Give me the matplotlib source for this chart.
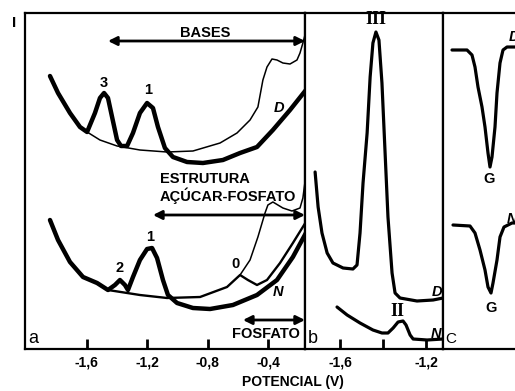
import matplotlib
matplotlib.use('Agg')
import matplotlib.pyplot as plt

plt.rcParams['font.family'] = ['Liberation Sans', 'DejaVu Sans']

# ---- panel a: potential (V) / current (arb. units) ----
d_thick_v = [-1.842, -1.789, -1.710, -1.644, -1.597, -1.545, -1.512, -1.485, -1.459, -1.432,
             -1.399, -1.373, -1.333, -1.294, -1.248, -1.201, -1.162, -1.129, -1.083, -1.030,
             -0.937, -0.832, -0.700, -0.587, -0.475, -0.370, -0.257, -0.152]
d_thick_i = [273, 256, 236, 222, 217, 236, 251, 256, 251, 232,
             209, 203, 203, 216, 236, 246, 241, 222, 201, 192,
             187, 186, 189, 196, 202, 219, 239, 259]

d_thin_v = [-1.597, -1.512, -1.399, -1.248, -1.069, -0.898, -0.719, -0.607, -0.521, -0.469,
            -0.436, -0.409, -0.376, -0.343, -0.304, -0.257, -0.211, -0.191, -0.172, -0.158]
d_thin_i = [217, 209, 203, 199, 197, 198, 206, 216, 229, 242,
            269, 282, 290, 289, 286, 285, 289, 296, 306, 314]

n_thick_v = [-1.842, -1.789, -1.710, -1.624, -1.531, -1.459, -1.413, -1.380, -1.347, -1.327,
             -1.294, -1.248, -1.201, -1.168, -1.135, -1.096, -1.063, -1.003, -0.898, -0.785,
             -0.634, -0.475, -0.343, -0.238, -0.152]
n_thick_i = [129, 109, 87, 72, 66, 59, 64, 69, 64, 59,
             72, 89, 100, 101, 91, 69, 54, 46, 41, 40,
             44, 54, 69, 92, 116]

n_mid_v = [-1.459, -1.248, -1.069, -0.851, -0.673, -0.587, -0.535, -0.475, -0.409, -0.323,
           -0.238, -0.152]
n_mid_i = [59, 54, 51, 52, 62, 74, 69, 64, 69, 86, 106, 127]

n_thin_v = [-0.587, -0.521, -0.469, -0.422, -0.403, -0.370, -0.304, -0.244, -0.191, -0.172, -0.152]
n_thin_i = [74, 89, 112, 136, 144, 147, 141, 138, 141, 151, 174]

# ---- panel b ----
b_d_v = [-1.716, -1.702, -1.684, -1.660, -1.633, -1.586, -1.540, -1.521, -1.507, -1.493,
         -1.474, -1.460, -1.447, -1.433, -1.419, -1.405, -1.391, -1.377, -1.358, -1.344,
         -1.321, -1.242, -1.167, -1.121]
b_d_i = [177, 142, 116, 96, 86, 81, 80, 84, 116, 166,
         216, 272, 306, 317, 309, 266, 199, 132, 76, 56,
         51, 48, 49, 51]

b_n_v = [-1.614, -1.567, -1.507, -1.447, -1.405, -1.377, -1.353, -1.330, -1.307, -1.293,
         -1.274, -1.260, -1.195, -1.121]
b_n_i = [42, 34, 26, 19, 16, 16, 21, 27, 28, 24, 14, 10, 9, 10]

# ---- panel c (no potential scale shown) ----
c_d_x = [9, 24, 29, 32, 35, 39, 42, 45, 47, 49, 52, 54, 57, 60, 64, 72]
c_d_i = [299, 299, 294, 282, 262, 242, 222, 196, 182, 192, 222, 256, 286, 299, 302, 302]
c_n_x = [10, 27, 32, 37, 42, 45, 48, 50, 54, 57, 61, 69, 72]
c_n_i = [124, 123, 116, 99, 79, 62, 56, 66, 89, 112, 122, 126, 126]

a_ticks = [-1.6, -1.2, -0.8, -0.4]
a_ticklabels = ['-1,6', '-1,2', '-0,8', '-0,4']
b_ticks = [-1.6, -1.4, -1.2]
b_ticklabels = ['-1,6', '', '-1,2']

W, H = 515, 391
fig = plt.figure(figsize=(W / 100, H / 100), dpi=100)
bot = 1 - 349 / H
hgt = (349 - 13) / H
ax_a = fig.add_axes([25 / W, bot, (305 - 25) / W, hgt])
ax_b = fig.add_axes([305 / W, bot, (443 - 305) / W, hgt])
ax_c = fig.add_axes([443 / W, bot, (540 - 443) / W, hgt])

for ax in (ax_a, ax_b, ax_c):
    ax.set_ylim(0, 336)
    ax.set_yticks([])
    for s in ax.spines.values():
        s.set_linewidth(1.6)
    ax.tick_params(axis='x', direction='in', length=7, width=2, pad=5, labelsize=10)

bold = dict(fontweight='bold', fontsize=10.5)
ital = dict(fontweight='bold', fontstyle='italic', fontsize=10.5)
serif = dict(family=['Liberation Serif', 'DejaVu Serif'], fontsize=13, fontweight='bold')
line = dict(color='black', solid_joinstyle='round', solid_capstyle='round')

# panel a
ax_a.set_xlim(-2.007, -0.158)
ax_a.plot(d_thick_v, d_thick_i, lw=3.2, **line)
ax_a.plot(d_thin_v, d_thin_i, lw=1.1, **line)
ax_a.plot(n_thick_v, n_thick_i, lw=3.2, **line)
ax_a.plot(n_mid_v, n_mid_i, lw=1.7, **line)
ax_a.plot(n_thin_v, n_thin_i, lw=1.1, **line)
ax_a.set_xticks(a_ticks)
ax_a.set_xticklabels(a_ticklabels, fontweight='bold')

arrow = dict(arrowstyle='<|-|>', lw=2, color='black', mutation_scale=13, shrinkA=0, shrinkB=0)
ax_a.annotate('', xy=(-0.158, 308), xytext=(-1.459, 308), arrowprops=arrow, annotation_clip=False)
ax_a.annotate('', xy=(-0.158, 134), xytext=(-1.162, 134), arrowprops=arrow, annotation_clip=False)
ax_a.annotate('', xy=(-0.158, 29), xytext=(-0.568, 29), arrowprops=arrow, annotation_clip=False)

ax_a.text(-0.818, 316, 'BASES', ha='center', va='center', **bold)
ax_a.text(-1.485, 266, '3', ha='center', va='center', **bold)
ax_a.text(-1.195, 259, '1', ha='center', va='center', **bold)
ax_a.text(-0.330, 241, 'D', ha='center', va='center', **ital)
ax_a.text(-1.118, 170, 'ESTRUTURA', ha='left', va='center', **bold)
ax_a.text(-1.118, 153, 'AÇÚCAR-FOSFATO', ha='left', va='center', **bold)
ax_a.text(-1.380, 81, '2', ha='center', va='center', **bold)
ax_a.text(-1.182, 112, '1', ha='center', va='center', **bold)
ax_a.text(-0.614, 85, '0', ha='center', va='center', **bold)
ax_a.text(-0.337, 57, 'N', ha='center', va='center', **ital)
ax_a.text(-0.416, 15, 'FOSFATO', ha='center', va='center', **bold)
ax_a.text(0.012, 0.005, 'a', transform=ax_a.transAxes, ha='left', va='bottom', fontsize=13)

# panel b
ax_b.set_xlim(-1.763, -1.121)
ax_b.plot(b_d_v, b_d_i, lw=2.3, **line)
ax_b.plot(b_n_v, b_n_i, lw=2.3, **line)
ax_b.set_xticks(b_ticks)
ax_b.set_xticklabels(b_ticklabels, fontweight='bold')
ax_b.text(-1.433, 330, 'III', ha='center', va='center', **serif)
ax_b.text(-1.335, 37, 'II', ha='center', va='center', **serif)
ax_b.text(-1.150, 57, 'D', ha='center', va='center', **ital)
ax_b.text(-1.155, 15, 'N', ha='center', va='center', **ital)
ax_b.text(0.02, 0.005, 'b', transform=ax_b.transAxes, ha='left', va='bottom', fontsize=13)

# panel c
ax_c.set_xlim(0, 97)
ax_c.set_xticks([])
ax_c.plot(c_d_x, c_d_i, lw=2.3, **line)
ax_c.plot(c_n_x, c_n_i, lw=2.3, **line)
ax_c.text(46, 170, 'G', ha='center', va='center', **bold)
ax_c.text(48, 41, 'G', ha='center', va='center', **bold)
ax_c.text(66, 312, 'D', ha='left', va='center', **ital)
ax_c.text(64, 130, 'N', ha='left', va='center', **ital)
ax_c.text(0.02, 0.01, 'C', transform=ax_c.transAxes, ha='left', va='bottom', fontsize=11)

fig.text(14 / W, 1 - 23 / H, 'I', ha='center', va='center', fontweight='bold', fontsize=11)
fig.text(293 / W, 1 - 382 / H, 'POTENCIAL (V)', ha='center', va='center', fontweight='bold', fontsize=10)

fig.savefig('out.png', dpi=100)
